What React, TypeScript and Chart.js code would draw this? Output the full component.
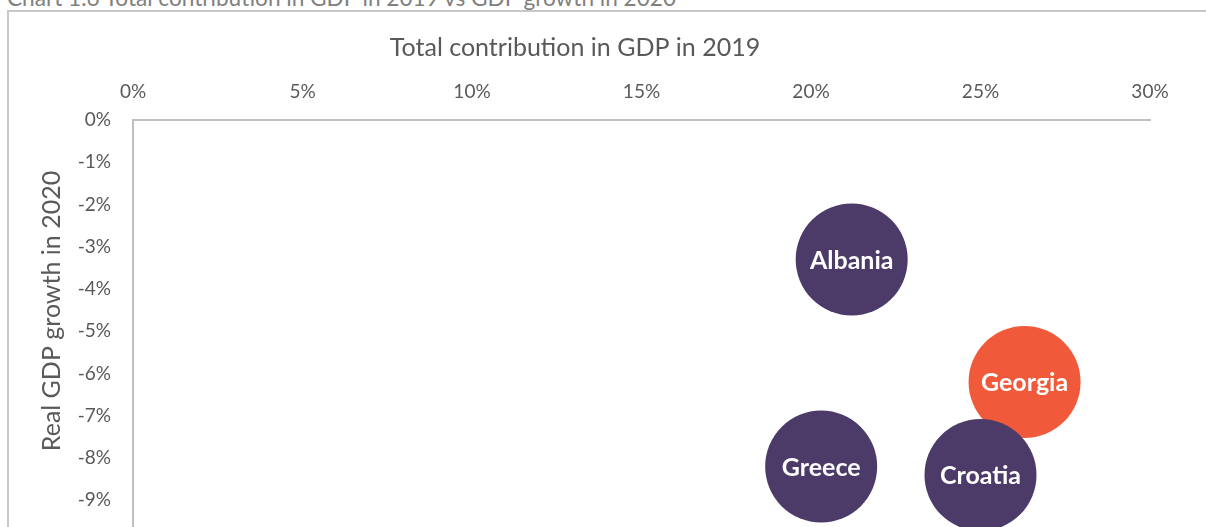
import React, { useEffect, useRef } from "react";
import { Chart, registerables } from "chart.js";

Chart.register(...registerables);

const countries = ["Albania", "Georgia", "Greece", "Croatia"];
const contribution2019 = [21.2, 26.3, 20.3, 25.0];
const gdpGrowth2020 = [-3.3, -6.2, -8.2, -8.4];
const bubbleColors = ["#4C3A69", "#F05A3A", "#4C3A69", "#4C3A69"];
const xTicks = [0, 5, 10, 15, 20, 25, 30];
const yTicks = [0, -1, -2, -3, -4, -5, -6, -7, -8, -9, -10];

const chartTitle = "Chart 1.6 Total contribution in GDP in 2019 vs GDP growth in 2020";
const xTitle = "Total contribution in GDP in 2019";
const yTitle = "Real GDP growth in 2020";

const FONT = "Lato, 'Open Sans', sans-serif";
const TEXT = "#595959";
const AXIS = "#BFBFBF";

export default function App() {
  const ref = useRef<HTMLCanvasElement | null>(null);

  useEffect(() => {
    if (!ref.current) return;

    const labelPlugin = {
      id: "bubbleLabels",
      afterDatasetsDraw(chart: any) {
        const ctx = chart.ctx;
        const meta = chart.getDatasetMeta(0);
        ctx.save();
        ctx.fillStyle = "#FFFFFF";
        ctx.font = `bold 25px ${FONT}`;
        ctx.textAlign = "center";
        ctx.textBaseline = "middle";
        meta.data.forEach((el: any, i: number) => {
          ctx.fillText(countries[i], el.x, el.y + 1);
        });
        ctx.restore();
      },
    };

    const axisTitlePlugin = {
      id: "axisTitles",
      afterDraw(chart: any) {
        const ctx = chart.ctx;
        const area = chart.chartArea;
        ctx.save();
        ctx.fillStyle = TEXT;
        ctx.font = `25px ${FONT}`;
        ctx.textAlign = "center";
        ctx.textBaseline = "middle";
        ctx.fillText(xTitle, area.left + 442, 48);
        ctx.translate(52, area.top + 191);
        ctx.rotate(-Math.PI / 2);
        ctx.fillText(yTitle, 0, 0);
        ctx.restore();
      },
    };

    const chart = new Chart(ref.current, {
      type: "bubble",
      data: {
        datasets: [
          {
            label: "Countries",
            data: countries.map((_, i) => ({ x: contribution2019[i], y: gdpGrowth2020[i] })),
            backgroundColor: bubbleColors,
            borderWidth: 0,
            radius: 56,
            hoverRadius: 0,
          } as any,
        ],
      },
      options: {
        responsive: false,
        animation: false,
        events: [],
        layout: { autoPadding: false, padding: { left: 0, top: 0, right: 56, bottom: 20 } },
        plugins: {
          legend: { display: false },
          tooltip: { enabled: false },
          title: { display: false },
        },
        scales: {
          x: {
            type: "linear",
            position: "top",
            min: 0,
            max: 30,
            afterBuildTicks: (scale: any) => {
              scale.ticks = xTicks.map((v) => ({ value: v }));
            },
            afterFit: (scale: any) => {
              scale.height = 120;
            },
            grid: { display: false, drawTicks: false },
            border: { display: true, color: AXIS, width: 2 },
            ticks: {
              color: TEXT,
              font: { family: FONT, size: 19 },
              padding: 17,
              maxRotation: 0,
              callback: (v: any) => `${v}%`,
            },
          },
          y: {
            type: "linear",
            position: "left",
            min: -10,
            max: 0,
            afterBuildTicks: (scale: any) => {
              scale.ticks = yTicks.map((v) => ({ value: v }));
            },
            afterFit: (scale: any) => {
              scale.width = 133;
            },
            grid: { display: false, drawTicks: false },
            border: { display: true, color: AXIS, width: 2 },
            ticks: {
              color: TEXT,
              font: { family: FONT, size: 19 },
              padding: 22,
              callback: (v: any) => `${v}%`,
            },
          },
        },
      },
      plugins: [labelPlugin, axisTitlePlugin],
    });

    return () => chart.destroy();
  }, []);

  return (
    <div
      style={{
        position: "fixed",
        left: 0,
        top: 0,
        width: 1206,
        height: 527,
        overflow: "hidden",
        background: "#FFFFFF",
      }}
    >
      <div
        style={{
          position: "absolute",
          left: 7,
          top: -14,
          fontFamily: FONT,
          fontSize: 22.6,
          color: "#808080",
          whiteSpace: "nowrap",
          lineHeight: "24px",
        }}
      >
        {chartTitle}
      </div>
      <div
        style={{
          position: "absolute",
          left: 7,
          top: 10,
          width: 1300,
          height: 700,
          borderLeft: "2px solid #C8C8C8",
          borderTop: "2px solid #C8C8C8",
        }}
      />
      <canvas
        ref={ref}
        width={1206}
        height={576}
        style={{ position: "absolute", left: 0, top: 0, width: 1206, height: 576 }}
      />
    </div>
  );
}
